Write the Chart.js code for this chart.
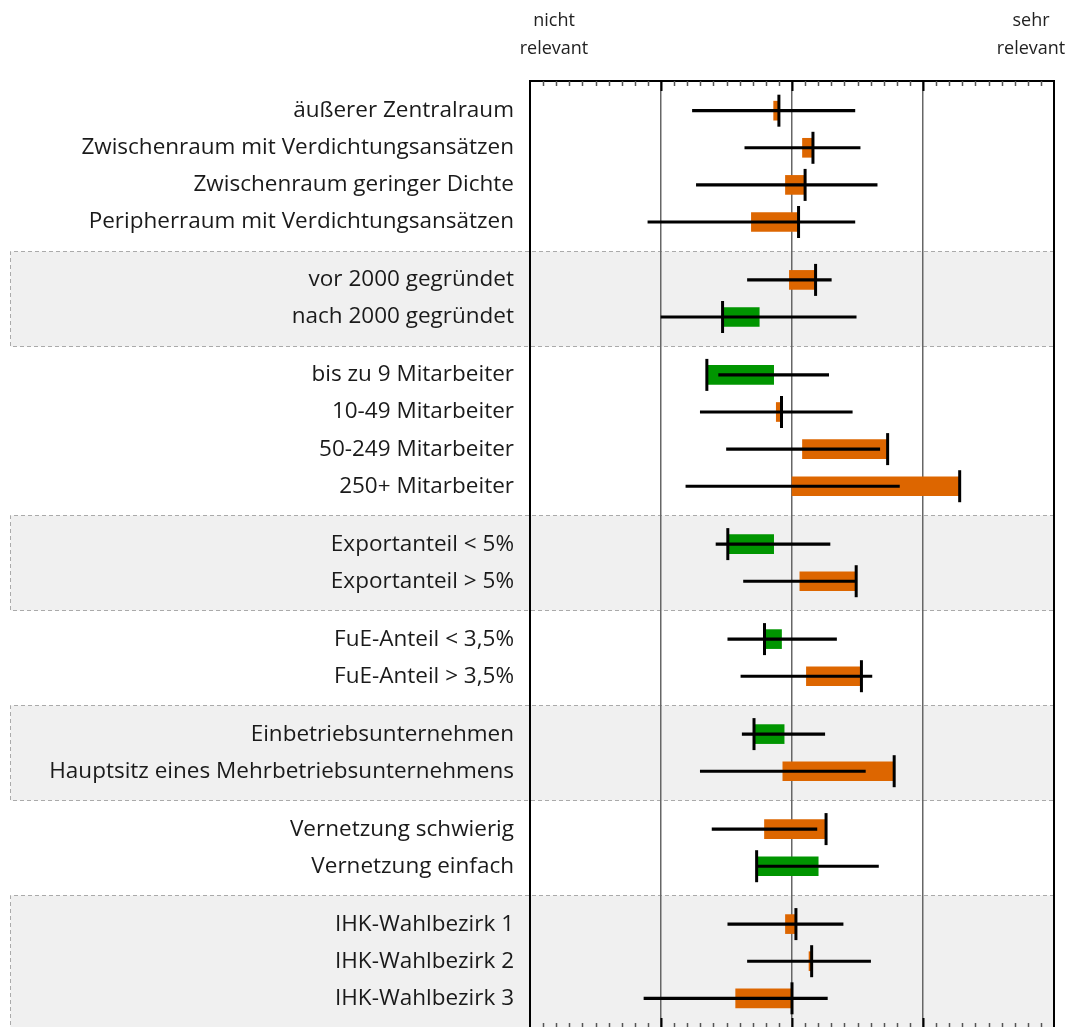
<!DOCTYPE html>
<html>
<head>
<meta charset="utf-8">
<script src="https://cdn.jsdelivr.net/npm/chart.js@4"></script>
<style>
  html, body { margin: 0; padding: 0; background: #fff; overflow: hidden; }
  canvas { display: block; }
</style>
</head>
<body>
<canvas id="c" width="1073" height="1040"></canvas>
<script>
// ---- data ----
const labels = [
  "äußerer Zentralraum",
  "Zwischenraum mit Verdichtungsansätzen",
  "Zwischenraum geringer Dichte",
  "Peripherraum mit Verdichtungsansätzen",
  "vor 2000 gegründet",
  "nach 2000 gegründet",
  "bis zu 9 Mitarbeiter",
  "10-49 Mitarbeiter",
  "50-249 Mitarbeiter",
  "250+ Mitarbeiter",
  "Exportanteil < 5%",
  "Exportanteil > 5%",
  "FuE-Anteil < 3,5%",
  "FuE-Anteil > 3,5%",
  "Einbetriebsunternehmen",
  "Hauptsitz eines Mehrbetriebsunternehmens",
  "Vernetzung schwierig",
  "Vernetzung einfach",
  "IHK-Wahlbezirk 1",
  "IHK-Wahlbezirk 2",
  "IHK-Wahlbezirk 3"
];
const groupSizes = [4, 2, 4, 2, 2, 2, 2, 3];
const barStart  = [2.86, 3.08, 2.95, 2.69, 2.98, 2.75, 2.86, 2.88, 3.08, 3.00, 2.86, 3.06, 2.92, 3.11, 2.94, 2.93, 2.79, 3.20, 2.95, 3.13, 2.57];
const barEnd    = [2.90, 3.16, 3.10, 3.05, 3.18, 2.47, 2.35, 2.92, 3.73, 4.28, 2.51, 3.49, 2.79, 3.53, 2.71, 3.78, 3.26, 2.73, 3.03, 3.15, 3.00];
const rangeLow  = [2.24, 2.64, 2.27, 1.90, 2.66, 2.00, 2.44, 2.30, 2.50, 2.19, 2.42, 2.63, 2.51, 2.61, 2.62, 2.30, 2.39, 2.73, 2.51, 2.66, 1.87];
const rangeHigh = [3.48, 3.52, 3.65, 3.48, 3.30, 3.49, 3.28, 3.46, 3.67, 3.82, 3.29, 3.49, 3.34, 3.61, 3.25, 3.56, 3.19, 3.66, 3.39, 3.60, 3.27];
const scaleMin = 1, scaleMax = 5;
const scaleEndLabels = [["nicht", "relevant"], ["sehr", "relevant"]];

// ---- layout helpers ----
const GROUP_GAP = 0.56;
const rowPos = [];
(function () {
  let i = 0;
  groupSizes.forEach((n, g) => {
    for (let k = 0; k < n; k++) { rowPos.push(i + g * GROUP_GAP); i++; }
  });
})();
const HALF = (1 + GROUP_GAP) / 2;
const ORANGE = '#dd6600', GREEN = '#009500';

const barData = rowPos.map((p, i) => ({ x: [barStart[i], barEnd[i]], y: p }));
const whiskerData = rowPos.map((p, i) => ({ x: [rangeLow[i], rangeHigh[i]], y: p }));
const tickData = rowPos.map((p, i) => ({ x: barEnd[i], y: p }));
const barColors = barEnd.map((e, i) => e >= barStart[i] ? ORANGE : GREEN);

const decor = {
  id: 'decor',
  beforeDraw(chart) {
    const { ctx, chartArea } = chart;
    const ys = chart.scales.y;
    ctx.save();
    let idx = 0;
    groupSizes.forEach((n, g) => {
      const first = rowPos[idx], last = rowPos[idx + n - 1];
      idx += n;
      if (g % 2 === 1) {
        let top = Math.round(ys.getPixelForValue(first - HALF)) + 0.5;
        let bot = Math.round(ys.getPixelForValue(last + HALF)) + 0.5;
        bot = Math.min(bot, chartArea.bottom);
        const left = 10.5, right = chartArea.right;
        ctx.fillStyle = '#f0f0f0';
        ctx.fillRect(left, top, right - left, bot - top);
        ctx.strokeStyle = '#aaaaaa';
        ctx.lineWidth = 1;
        ctx.setLineDash([4, 3]);
        ctx.beginPath();
        ctx.moveTo(right, top); ctx.lineTo(left, top); ctx.lineTo(left, bot); ctx.lineTo(right, bot);
        ctx.stroke();
        ctx.setLineDash([]);
      }
    });
    ctx.restore();
  },
  afterDraw(chart) {
    const { ctx, chartArea } = chart;
    const xs = chart.scales.x;
    ctx.save();
    ctx.strokeStyle = '#000';
    ctx.lineWidth = 2;
    ctx.beginPath();
    ctx.moveTo(chartArea.right, chartArea.top - 1);
    ctx.lineTo(chartArea.right, chartArea.bottom);
    ctx.lineTo(chartArea.left, chartArea.bottom);
    ctx.stroke();
    for (let i = scaleMin * 10 + 1; i < scaleMax * 10; i++) {
      const x = Math.round(xs.getPixelForValue(i / 10)) + 0.5;
      if (i % 10 === 0) {
        ctx.strokeStyle = '#000'; ctx.lineWidth = 2;
        ctx.beginPath();
        ctx.moveTo(x, chartArea.top); ctx.lineTo(x, chartArea.top + 10);
        ctx.moveTo(x, chartArea.bottom); ctx.lineTo(x, chartArea.bottom - 10);
        ctx.stroke();
      } else {
        ctx.strokeStyle = '#555'; ctx.lineWidth = 1.5;
        ctx.beginPath();
        ctx.moveTo(x, chartArea.top); ctx.lineTo(x, chartArea.top + 5);
        ctx.moveTo(x, chartArea.bottom); ctx.lineTo(x, chartArea.bottom - 5);
        ctx.stroke();
      }
    }
    ctx.fillStyle = '#222';
    ctx.font = '18px "Open Sans"';
    ctx.textAlign = 'center';
    ctx.textBaseline = 'middle';
    const lx = xs.getPixelForValue(scaleMin) + 24;
    const rx = xs.getPixelForValue(scaleMax) - 23;
    scaleEndLabels[0].forEach((t, k) => ctx.fillText(t, lx, 21 + k * 28));
    scaleEndLabels[1].forEach((t, k) => ctx.fillText(t, rx, 21 + k * 28));
    ctx.restore();
  }
};

new Chart(document.getElementById('c'), {
  type: 'bar',
  data: {
    datasets: [
      {
        type: 'scatter',
        data: tickData,
        pointStyle: 'line',
        rotation: 90,
        pointRadius: 16,
        pointHoverRadius: 16,
        borderColor: '#000',
        backgroundColor: '#000',
        borderWidth: 3,
        order: 0
      },
      {
        indexAxis: 'y',
        data: whiskerData,
        backgroundColor: '#000',
        barThickness: 2.5,
        grouped: false,
        borderWidth: 0,
        order: 1
      },
      {
        indexAxis: 'y',
        data: barData,
        backgroundColor: barColors,
        barThickness: 19,
        grouped: false,
        borderWidth: 0,
        order: 2
      }
    ]
  },
  options: {
    indexAxis: 'y',
    responsive: false,
    maintainAspectRatio: false,
    animation: false,
    devicePixelRatio: 1,
    layout: { autoPadding: false, padding: { top: 81, right: 19, bottom: 12, left: 0 } },
    plugins: { legend: { display: false }, tooltip: { enabled: false }, title: { display: false } },
    scales: {
      x: {
        type: 'linear',
        axis: 'x',
        position: 'top',
        min: scaleMin,
        max: scaleMax,
        offset: false,
        ticks: { display: false, stepSize: 1 },
        grid: {
          drawTicks: false,
          offset: false,
          lineWidth: 1.5,
          color: (c) => (c.tick && c.tick.value > scaleMin && c.tick.value < scaleMax) ? '#666' : 'rgba(0,0,0,0)'
        },
        border: { display: true, color: '#000', width: 2 },
        afterFit: (s) => { s.height = 0; s.paddingLeft = 0; s.paddingRight = 0; }
      },
      y: {
        type: 'linear',
        axis: 'y',
        position: 'left',
        reverse: true,
        offset: false,
        min: -0.8,
        max: rowPos[rowPos.length - 1] + 0.8,
        afterBuildTicks: (s) => { s.ticks = rowPos.map(v => ({ value: v })); },
        ticks: {
          autoSkip: false,
          callback: (v, i) => labels[i],
          font: { family: 'Open Sans', size: 22.5 },
          color: '#1a1a1a',
          padding: 16
        },
        grid: { display: false, drawTicks: false, offset: false },
        border: { display: true, color: '#000', width: 2 },
        afterFit: (s) => { s.width = 530; s.paddingTop = 0; s.paddingBottom = 0; }
      }
    }
  },
  plugins: [decor]
});
</script>
</body>
</html>
